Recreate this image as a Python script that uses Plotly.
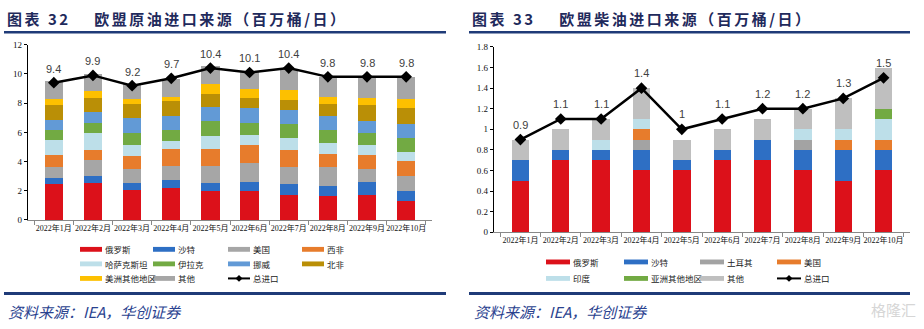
import plotly.graph_objects as go

# ---------------- data: EU crude oil imports by source (mb/d) ----------------
months = ["2022年1月", "2022年2月", "2022年3月", "2022年4月", "2022年5月",
          "2022年6月", "2022年7月", "2022年8月", "2022年9月", "2022年10月"]

crude_names = ["俄罗斯", "沙特", "美国", "西非", "哈萨克斯坦",
               "伊拉克", "挪威", "北非", "美洲其他地区", "其他"]
crude_russia = [2.44, 2.53, 2.02, 2.22, 1.96, 1.96, 1.73, 1.64, 1.73, 1.33]
crude_saudi = [0.40, 0.51, 0.49, 0.49, 0.55, 0.66, 0.71, 0.67, 0.89, 0.67]
crude_us = [0.76, 1.09, 0.96, 1.02, 1.22, 1.25, 1.16, 1.29, 0.89, 1.02]
crude_wafrica = [0.84, 0.63, 0.91, 1.11, 1.14, 1.29, 1.16, 0.93, 0.93, 1.00]
crude_kaz = [1.07, 1.17, 0.75, 0.60, 0.86, 0.68, 0.88, 0.71, 0.72, 0.65]
crude_iraq = [0.65, 0.74, 0.83, 0.72, 1.05, 0.83, 0.92, 0.92, 0.82, 0.97]
crude_norway = [0.68, 0.71, 1.00, 0.97, 0.98, 0.97, 0.97, 0.97, 0.78, 0.92]
crude_nafrica = [1.03, 1.00, 0.95, 1.00, 0.88, 0.74, 0.71, 0.83, 1.13, 1.11]
crude_americas = [0.40, 0.42, 0.36, 0.31, 0.65, 0.58, 0.69, 0.46, 0.49, 0.60]
crude_other = [1.26, 1.20, 1.04, 1.23, 1.27, 1.20, 1.40, 1.40, 1.44, 1.53]
crude_total = [9.4, 9.9, 9.2, 9.7, 10.4, 10.1, 10.4, 9.8, 9.8, 9.8]

# ---------------- data: EU diesel imports by source (mb/d) ----------------
diesel_names = ["俄罗斯", "沙特", "土耳其", "美国", "印度", "亚洲其他地区", "其他"]
diesel_russia = [0.5, 0.7, 0.7, 0.6, 0.6, 0.7, 0.7, 0.6, 0.5, 0.6]
diesel_saudi = [0.2, 0.1, 0.1, 0.2, 0.1, 0.1, 0.2, 0.2, 0.3, 0.2]
diesel_turkey = [0.0, 0.0, 0.0, 0.1, 0.0, 0.0, 0.0, 0.1, 0.0, 0.0]
diesel_us = [0.0, 0.0, 0.0, 0.1, 0.0, 0.0, 0.0, 0.0, 0.1, 0.1]
diesel_india = [0.0, 0.0, 0.1, 0.1, 0.0, 0.0, 0.0, 0.1, 0.1, 0.2]
diesel_asia = [0.0, 0.0, 0.0, 0.0, 0.0, 0.0, 0.0, 0.0, 0.0, 0.1]
diesel_other = [0.2, 0.2, 0.2, 0.3, 0.2, 0.2, 0.2, 0.2, 0.3, 0.4]
diesel_total = [0.9, 1.1, 1.1, 1.4, 1.0, 1.1, 1.2, 1.2, 1.3, 1.5]

total_name = "总进口"

# ---------------- styling ----------------
RED = "#dc111a"
BLUE = "#2e6fc4"
GRAY = "#a6a6a6"
ORANGE = "#e77c2c"
LIGHTBLUE = "#bddfe9"
GREEN = "#72aa43"
MIDBLUE = "#629ad6"
GOLD = "#ba8f06"
YELLOW = "#fdc000"
LIGHTGRAY = "#bfbfbf"
NAVY = "#1f3b78"

crude_colors = [RED, BLUE, GRAY, ORANGE, LIGHTBLUE, GREEN, MIDBLUE, GOLD, YELLOW, GRAY]
diesel_colors = [RED, BLUE, "#a3a3a3", ORANGE, LIGHTBLUE, GREEN, LIGHTGRAY]

CJK = "Noto Sans CJK SC"
SERIF = "Liberation Serif, " + CJK
SANS = "Liberation Sans, Arial"

crude_series = [crude_russia, crude_saudi, crude_us, crude_wafrica, crude_kaz,
                crude_iraq, crude_norway, crude_nafrica, crude_americas, crude_other]
diesel_series = [diesel_russia, diesel_saudi, diesel_turkey, diesel_us,
                 diesel_india, diesel_asia, diesel_other]

fig = go.Figure()

for name, vals, col in zip(crude_names, crude_series, crude_colors):
    fig.add_trace(go.Bar(x=months, y=vals, name=name, marker_color=col,
                         marker_line_width=0, width=0.47,
                         xaxis="x", yaxis="y", showlegend=False))
fig.add_trace(go.Scatter(x=months, y=crude_total, name=total_name, mode="lines+markers",
                         line=dict(color="black", width=2.5),
                         marker=dict(symbol="diamond", size=9, color="black"),
                         xaxis="x", yaxis="y", showlegend=False))

for name, vals, col in zip(diesel_names, diesel_series, diesel_colors):
    fig.add_trace(go.Bar(x=months, y=vals, name=name, marker_color=col,
                         marker_line_width=0, width=0.43,
                         xaxis="x2", yaxis="y2", showlegend=False))
fig.add_trace(go.Scatter(x=months, y=diesel_total, name=total_name, mode="lines+markers",
                         line=dict(color="black", width=2.5),
                         marker=dict(symbol="diamond", size=9, color="black"),
                         xaxis="x2", yaxis="y2", showlegend=False))


def fmt(v):
    return ("%g" % v)


annotations = []
for m, v in zip(months, crude_total):
    annotations.append(dict(x=m, y=v, xref="x", yref="y", text=fmt(v), showarrow=False,
                            yshift=14, font=dict(family=SANS, size=11, color="#404040")))
for m, v in zip(months, diesel_total):
    annotations.append(dict(x=m, y=v, xref="x2", yref="y2", text=fmt(v), showarrow=False,
                            yshift=15, font=dict(family=SANS, size=11, color="#404040")))

W, H = 924, 329


def px(x):
    return x / W


def py(y):
    return 1 - y / H


shapes = []

# titles and rules
title_font = dict(family=CJK, size=15, color="#1f2a5c")
annotations.append(dict(x=px(5), y=py(14), xref="paper", yref="paper", xanchor="left",
                        yanchor="middle", showarrow=False, font=title_font,
                        text="<span style='letter-spacing:2.5px'><b>图表 32    欧盟原油进口来源（百万桶/日）</b></span>"))
annotations.append(dict(x=px(470), y=py(14), xref="paper", yref="paper", xanchor="left",
                        yanchor="middle", showarrow=False, font=title_font,
                        text="<span style='letter-spacing:2.5px'><b>图表 33    欧盟柴油进口来源（百万桶/日）</b></span>"))
for x0, x1 in [(4, 446), (469, 910)]:
    shapes.append(dict(type="line", xref="paper", yref="paper", x0=px(x0), x1=px(x1),
                       y0=py(28), y1=py(28), line=dict(color=NAVY, width=2.5)))
    shapes.append(dict(type="line", xref="paper", yref="paper", x0=px(x0), x1=px(x1),
                       y0=py(297.5), y1=py(297.5), line=dict(color=NAVY, width=3)))

source_font = dict(family=CJK, size=15, color="#2a428f")
for x0 in (6, 472):
    annotations.append(dict(x=px(x0), y=py(316), xref="paper", yref="paper", xanchor="left",
                            yanchor="middle", showarrow=False, font=source_font,
                            text="<i>资料来源：IEA，华创证券</i>"))

annotations.append(dict(x=px(918), y=py(314), xref="paper", yref="paper", xanchor="right",
                        yanchor="middle", showarrow=False,
                        font=dict(family=CJK, size=15, color="#d6d6d6"), text="格隆汇"))


# legends built from swatches and labels
def legend_item(x, y, label, color, is_line=False, sw=23):
    if is_line:
        shapes.append(dict(type="line", xref="paper", yref="paper", x0=px(x), x1=px(x + sw),
                           y0=py(y), y1=py(y), line=dict(color="black", width=2)))
        shapes.append(dict(type="path", xref="paper", yref="paper",
                           path="M %f,%f L %f,%f L %f,%f L %f,%f Z" % (
                               px(x + sw / 2), py(y - 3.5), px(x + sw / 2 + 3.5), py(y),
                               px(x + sw / 2), py(y + 3.5), px(x + sw / 2 - 3.5), py(y)),
                           fillcolor="black", line=dict(width=0)))
    else:
        shapes.append(dict(type="rect", xref="paper", yref="paper", x0=px(x), x1=px(x + sw),
                           y0=py(y - 2.5), y1=py(y + 2.5), fillcolor=color, line=dict(width=0)))
    annotations.append(dict(x=px(x + sw + 1), y=py(y), xref="paper", yref="paper",
                            xanchor="left", yanchor="middle", showarrow=False, text=label,
                            font=dict(family=CJK, size=8.5, color="#222222")))


crude_cols = [80, 153, 228, 302]
crude_rows = [252, 267, 282]
for i, (name, col) in enumerate(zip(crude_names, crude_colors)):
    legend_item(crude_cols[i % 4], crude_rows[i // 4], name, col, sw=22)
legend_item(crude_cols[2], crude_rows[2], total_name, None, is_line=True, sw=22)

diesel_cols = [546, 624, 700, 777]
diesel_rows = [265, 282]
for i, (name, col) in enumerate(zip(diesel_names, diesel_colors)):
    legend_item(diesel_cols[i % 4], diesel_rows[i // 4], name, col, sw=24)
legend_item(diesel_cols[3], diesel_rows[1], total_name, None, is_line=True, sw=24)

xtickfont = dict(family=SERIF, size=8, color="#111111")
ytickfont = dict(family=SERIF, size=9, color="#111111")
xaxis_common = dict(type="category", tickson="boundaries", ticks="outside", ticklen=4,
                    tickcolor="#888888", showline=True, linecolor="#888888", linewidth=1,
                    showgrid=False, tickfont=xtickfont, tickangle=0, fixedrange=True,
                    zeroline=False)
yaxis_common = dict(showgrid=False, showline=True, linecolor="black", linewidth=1.2,
                    ticks="outside", ticklen=3, tickcolor="black", tickfont=ytickfont,
                    zeroline=False, fixedrange=True)

fig.update_layout(
    width=W, height=H, margin=dict(l=0, r=0, t=0, b=0),
    paper_bgcolor="white", plot_bgcolor="white",
    barmode="stack", bargap=0.5, showlegend=False,
    xaxis=dict(domain=[px(28), px(432)], anchor="y", **xaxis_common),
    yaxis=dict(domain=[py(221.7), py(41)], range=[0, 12], dtick=2, anchor="x",
               **yaxis_common),
    xaxis2=dict(domain=[px(494), px(910)], anchor="y2", **xaxis_common),
    yaxis2=dict(domain=[py(234.3), py(43.3)], range=[0, 1.8], dtick=0.2, anchor="x2",
                tickformat="~g", **yaxis_common),
    annotations=annotations, shapes=shapes,
)

fig.write_html("out.html")
